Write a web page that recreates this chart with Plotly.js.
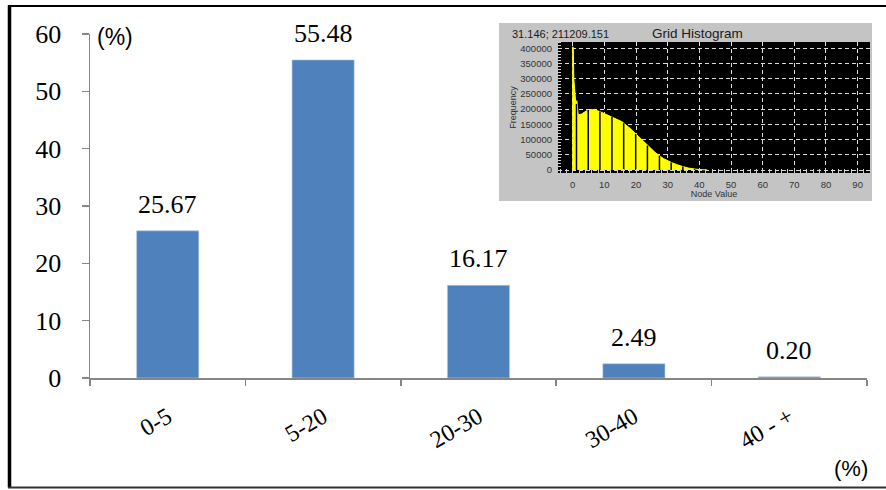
<!DOCTYPE html>
<html>
<head>
<meta charset="utf-8">
<script src="https://cdn.plot.ly/plotly-3.0.1.min.js"></script>
<style>html,body{margin:0;padding:0;background:#fff;}#chart{width:886px;height:490px;}</style>
</head>
<body>
<div id="chart"></div>
<script>
// ---- Main chart data ----
const categories = ['0-5', '5-20', '20-30', '30-40', '40 - +'];
const shares = [25.67, 55.48, 16.17, 2.49, 0.20];
const yTickValues = [0, 10, 20, 30, 40, 50, 60];

// ---- Inset "Grid Histogram" data ----
const histX = [0, 0, 0.2, 0.35, 0.55, 1.0, 1.15, 1.3, 1.45, 1.75, 2.8, 4.4, 5.5, 7, 8.6, 10.2, 12.8, 15.5, 18.1, 20.7, 23.4, 26, 28.6, 31.3, 33.9, 36.5, 39, 41, 42.5];
const histY = [0, 405000, 402000, 300000, 262000, 215000, 212000, 228000, 215000, 181000, 184000, 195000, 199000, 197000, 192000, 184000, 173000, 159000, 137000, 110000, 82000, 58000, 38000, 24000, 14000, 6500, 2500, 800, 0];
const separatorX = [1.2, 4.9, 8.6, 12.4, 16.1, 19.9, 23.6, 27.4, 31.1, 34.8, 38.5];
const insetXTicks = [0, 10, 20, 30, 40, 50, 60, 70, 80, 90];
const insetYTicks = [0, 50000, 100000, 150000, 200000, 250000, 300000, 350000, 400000];
const insetTitle = 'Grid Histogram';
const insetCursor = '31.146; 211209.151';

// helpers
const W = 886, H = 490;
const px = v => v / W;
const py = v => (H - v) / H;
function curveAt(x) {
  for (let i = 1; i < histX.length; i++) {
    if (x <= histX[i] && histX[i] > histX[i - 1]) {
      const t = (x - histX[i - 1]) / (histX[i] - histX[i - 1]);
      return histY[i - 1] + t * (histY[i] - histY[i - 1]);
    }
  }
  return 0;
}
const sepXs = [], sepYs = [];
separatorX.forEach(x => { sepXs.push(x, x, null); sepYs.push(0, curveAt(x), null); });

const serif = 'Liberation Serif, Times New Roman, serif';
const sans = 'Liberation Sans, Arial, sans-serif';
const axisGray = '#868686';

const traces = [
  {
    type: 'bar', x: categories, y: shares, xaxis: 'x', yaxis: 'y',
    marker: { color: '#4f81bd', line: { color: '#b9cde5', width: 0.6 } },
    hoverinfo: 'x+y', showlegend: false
  },
  {
    type: 'scatter', mode: 'lines', x: histX, y: histY, xaxis: 'x2', yaxis: 'y2',
    fill: 'tozeroy', fillcolor: '#ffff00', line: { color: '#ffff00', width: 1 },
    showlegend: false, hoverinfo: 'skip'
  },
  {
    type: 'scatter', mode: 'lines', x: sepXs, y: sepYs, xaxis: 'x2', yaxis: 'y2',
    line: { color: '#000000', width: 1.5 }, showlegend: false, hoverinfo: 'skip'
  }
];

const annotations = shares.map((v, i) => ({
  x: categories[i], y: v, xref: 'x', yref: 'y', text: v.toFixed(2),
  showarrow: false, yanchor: 'bottom', yshift: 10,
  font: { family: serif, size: 26, color: '#000' }
}));
annotations.push(
  { x: px(115), y: py(37), xref: 'paper', yref: 'paper', text: '(%)', showarrow: false,
    xanchor: 'center', yanchor: 'middle', font: { family: sans, size: 23, color: '#000' } },
  { x: px(851), y: py(468), xref: 'paper', yref: 'paper', text: '(%)', showarrow: false,
    xanchor: 'center', yanchor: 'middle', font: { family: sans, size: 22, color: '#000' } },
  { x: px(697), y: py(33), xref: 'paper', yref: 'paper', text: insetTitle, showarrow: false,
    xanchor: 'center', yanchor: 'middle', font: { family: sans, size: 13.5, color: '#1a1a1a' } },
  { x: px(510), y: py(34), xref: 'paper', yref: 'paper', text: insetCursor, showarrow: false,
    xanchor: 'left', yanchor: 'middle', font: { family: sans, size: 11, color: '#1a1a1a' } }
);

const shapes = [
  // inset gray panel
  { type: 'rect', xref: 'paper', yref: 'paper', x0: px(499), x1: px(872), y0: py(201), y1: py(23),
    fillcolor: '#c4c4c4', line: { width: 0 }, layer: 'below' },
  // inset black plot area
  { type: 'rect', xref: 'x2 domain', yref: 'y2 domain', x0: 0, x1: 1, y0: 0, y1: 1,
    fillcolor: '#000000', line: { width: 0 }, layer: 'below' },
  // outer frame
  { type: 'line', xref: 'paper', yref: 'paper', x0: px(9.5), x1: px(9.5), y0: py(487.5), y1: py(5.5),
    line: { color: '#000', width: 3.5 } },
  { type: 'line', xref: 'paper', yref: 'paper', x0: px(8), x1: 1, y0: py(6), y1: py(6),
    line: { color: '#000', width: 2 } },
  { type: 'line', xref: 'paper', yref: 'paper', x0: px(8), x1: 1, y0: py(487.5), y1: py(487.5),
    line: { color: '#333', width: 2 } }
];

const layout = {
  width: W, height: H, autosize: false,
  margin: { l: 0, r: 0, t: 0, b: 0, pad: 0 },
  paper_bgcolor: '#ffffff', plot_bgcolor: 'rgba(0,0,0,0)',
  bargap: 0.6, showlegend: false,
  xaxis: {
    domain: [px(90), px(867)], anchor: 'y', type: 'category',
    showline: true, linecolor: axisGray, linewidth: 1.5,
    ticks: 'outside', tickson: 'boundaries', ticklen: 6, tickcolor: axisGray, tickwidth: 1.5,
    tickangle: -30, ticklabelstandoff: 14,
    tickfont: { family: serif, size: 24, color: '#000' },
    showgrid: false, zeroline: false, fixedrange: true
  },
  yaxis: {
    domain: [py(378), py(34)], anchor: 'x', range: [0, 60],
    tickmode: 'array', tickvals: yTickValues, ticktext: yTickValues.map(String),
    showline: true, linecolor: axisGray, linewidth: 1.5,
    ticks: 'outside', ticklen: 7, tickcolor: axisGray, tickwidth: 1.5,
    ticklabelstandoff: 15,
    tickfont: { family: serif, size: 26, color: '#000' },
    showgrid: false, zeroline: false, fixedrange: true
  },
  xaxis2: {
    domain: [px(558), px(870)], anchor: 'y2', range: [-4.64, 93.9],
    tickmode: 'array', tickvals: insetXTicks, ticktext: insetXTicks.map(String),
    showline: false, ticks: '', ticklabelstandoff: 4,
    tickfont: { family: sans, size: 9.5, color: '#333' },
    showgrid: true, gridcolor: '#dcdcdc', griddash: '4px,3px', gridwidth: 1,
    minor: { dtick: 2, ticks: 'inside', ticklen: 4, tickcolor: '#cfcfcf', tickwidth: 1, showgrid: false },
    zeroline: false, fixedrange: true,
    title: { text: 'Node Value', standoff: 2, font: { family: sans, size: 9, color: '#333' } }
  },
  yaxis2: {
    domain: [py(173), py(42)], anchor: 'x2', range: [-9860, 420700],
    tickmode: 'array', tickvals: insetYTicks, ticktext: insetYTicks.map(String),
    showline: false, ticks: '', ticklabelstandoff: 5,
    tickfont: { family: sans, size: 9.5, color: '#333' },
    showgrid: true, gridcolor: '#dcdcdc', griddash: '4px,3px', gridwidth: 1,
    minor: { dtick: 10000, ticks: 'inside', ticklen: 3, tickcolor: '#cfcfcf', tickwidth: 1, showgrid: false },
    zeroline: false, fixedrange: true,
    title: { text: 'Frequency', standoff: 2, font: { family: sans, size: 9, color: '#333' } }
  },
  annotations: annotations,
  shapes: shapes
};

Plotly.newPlot('chart', traces, layout, { displayModeBar: false, staticPlot: true });
</script>
</body>
</html>
